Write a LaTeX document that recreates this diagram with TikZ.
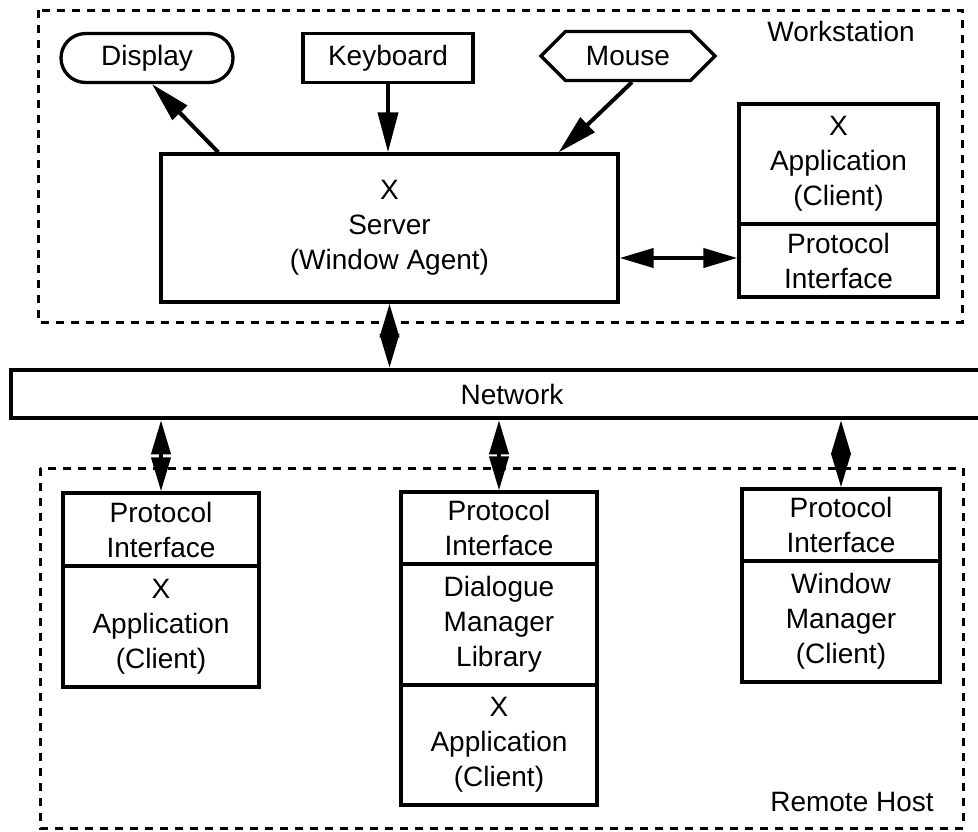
\documentclass[tikz,border=0pt]{standalone}
\usepackage{fontspec}
\setmainfont{Liberation Sans}
\usetikzlibrary{shapes.misc,shapes.symbols,arrows.meta}

\tikzstyle{blk}=[draw,line width=3.3pt,align=center,inner sep=0pt,font=\fontsize{28}{35}\selectfont]
\tikzstyle{part}=[blk,minimum width=196pt]
\tikzstyle{dev}=[blk,minimum height=49pt]
\tikzstyle{zone}=[line width=3pt,dash pattern=on 8pt off 7pt]
\tikzstyle{lbl}=[font=\fontsize{28}{35}\selectfont]
\tikzstyle{arr}=[line width=4pt,-{Triangle[length=40pt,width=20pt]}]
\tikzstyle{darr}=[line width=4pt,{Triangle[length=34pt,width=19pt]}-{Triangle[length=34pt,width=19pt]}]

\begin{document}
\begin{tikzpicture}[x=1pt,y=-1pt]
        \useasboundingbox (0,0) rectangle (978,831);

        % workstation
        \draw[zone] (38,10) rectangle (962,322);
        \draw (841,31) node[lbl](ws){Workstation};
        \draw (147,58) node[dev,rounded rectangle,minimum width=172pt](dsp){Display};
        \draw (388,58) node[dev,minimum width=170pt](kbd){Keyboard};
        \draw (628,56) node[dev,signal,signal to=east and west,signal pointer angle=90,minimum width=174pt](ms){Mouse};
        \draw (389.5,228) node[blk,minimum width=457pt,minimum height=148pt](srv){X\\Server\\(Window Agent)};
        \draw (838.5,164) node[part,minimum width=199pt,minimum height=120pt](wapp){X\\Application\\(Client)};
        \draw (838.5,260.5) node[part,minimum width=199pt,minimum height=73pt](wpi){Protocol\\Interface};

        % network
        \draw (512,394) node[blk,line width=4.5pt,minimum width=1002pt,minimum height=48pt](net){Network};

        % remote host
        \draw[zone] (40,468) rectangle (963,828);
        \draw (852,802) node[lbl](rh){Remote Host};
        \draw (161,529.5) node[part,minimum height=73pt](pi1){Protocol\\Interface};
        \draw (161,626.5) node[part,minimum height=121pt](app1){X\\Application\\(Client)};
        \draw (499,528) node[part,minimum height=72pt](pi2){Protocol\\Interface};
        \draw (499,624.5) node[part,minimum height=121pt](dml){Dialogue\\Manager\\Library};
        \draw (499,745) node[part,minimum height=120pt](app2){X\\Application\\(Client)};
        \draw (841,525) node[part,minimum width=198pt,minimum height=72pt](pi3){Protocol\\Interface};
        \draw (841,621.5) node[part,minimum width=198pt,minimum height=121pt](wm){Window\\Manager\\(Client)};
        %
        \draw[arr] ([xshift=59pt]srv.north west) -- ([xshift=5pt]dsp.south);
        \draw[arr] (kbd.south) -- (kbd.south |- srv.north);
        \draw[arr] ([xshift=4pt]ms.south) -- ([xshift=-61pt]srv.north east);
        \draw[darr] ([yshift=-30pt]srv.east) -- ([yshift=-30pt]srv.east -| wpi.west);
        \draw[darr] (srv.south) -- (srv.south |- net.north);
        \draw[darr] (pi1.north |- net.south) -- (pi1.north);
        \draw[darr] (pi2.north |- net.south) -- (pi2.north);
        \draw[darr] (pi3.north |- net.south) -- (pi3.north);
\end{tikzpicture}
\end{document}
